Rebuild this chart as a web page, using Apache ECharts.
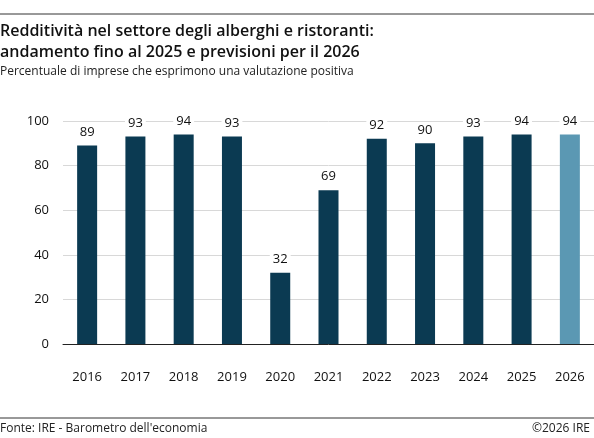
<!DOCTYPE html>
<html><head><meta charset="utf-8">
<script src="https://cdn.jsdelivr.net/npm/echarts@6/dist/echarts.min.js"></script>
<style>html,body{margin:0;padding:0;background:#fff}#c{width:594px;height:438px}</style>
</head><body><div id="c"></div>
<script>
const years = ['2016','2017','2018','2019','2020','2021','2022','2023','2024','2025','2026'];
const values = [89, 93, 94, 93, 32, 69, 92, 90, 93, 94, 94];
const yTicks = [0, 20, 40, 60, 80, 100];

const dark = '#0b3a52', light = '#5b98b3';
const font = '"Open Sans", "Noto Sans", sans-serif';

const chart = echarts.init(document.getElementById('c'));
chart.setOption({
    animation: false,
    graphic: [
        { type: 'line', shape: { x1: 0, y1: 14, x2: 594, y2: 14 }, style: { stroke: '#333', lineWidth: 1 } },
        { type: 'text', left: 0, top: 21, style: { text: 'Redditività nel settore degli alberghi e ristoranti:\nandamento fino al 2025 e previsioni per il 2026', font: '600 16px ' + font, fill: '#111', lineHeight: 21 } },
        { type: 'text', left: 0, top: 66, style: { text: 'Percentuale di imprese che esprimono una valutazione positiva', font: '12px ' + font, fill: '#222' } },
        { type: 'line', shape: { x1: 0, y1: 418, x2: 594, y2: 418 }, style: { stroke: '#333', lineWidth: 1 } },
        { type: 'text', left: 0, top: 423, style: { text: "Fonte: IRE - Barometro dell'economia", font: '12px ' + font, fill: '#222' } },
        { type: 'text', right: 4, top: 423, style: { text: '©2026 IRE', font: '12px ' + font, fill: '#222' } }
    ],
    grid: { left: 63, right: 0, top: 121, bottom: 94 },
    xAxis: {
        type: 'category', data: years,
        axisLine: { lineStyle: { color: '#222' } },
        axisTick: { show: false },
        axisLabel: { color: '#111', fontSize: 13, fontFamily: font, margin: 27 }
    },
    yAxis: {
        type: 'value', min: yTicks[0], max: yTicks[yTicks.length - 1], interval: 20,
        axisLine: { show: false }, axisTick: { show: false },
        splitLine: { lineStyle: { color: '#d8d8d8' } },
        axisLabel: { color: '#111', fontSize: 13, fontFamily: font, margin: 14 }
    },
    series: [{
        type: 'bar', barWidth: 20,
        data: values.map((v, i) => ({ value: v, itemStyle: { color: i === values.length - 1 ? light : dark } })),
        label: {
            show: true, position: 'top', distance: 6, color: '#111', fontSize: 13, fontFamily: font,
            backgroundColor: '#fff', padding: [1, 3]
        }
    }]
});
</script></body></html>
